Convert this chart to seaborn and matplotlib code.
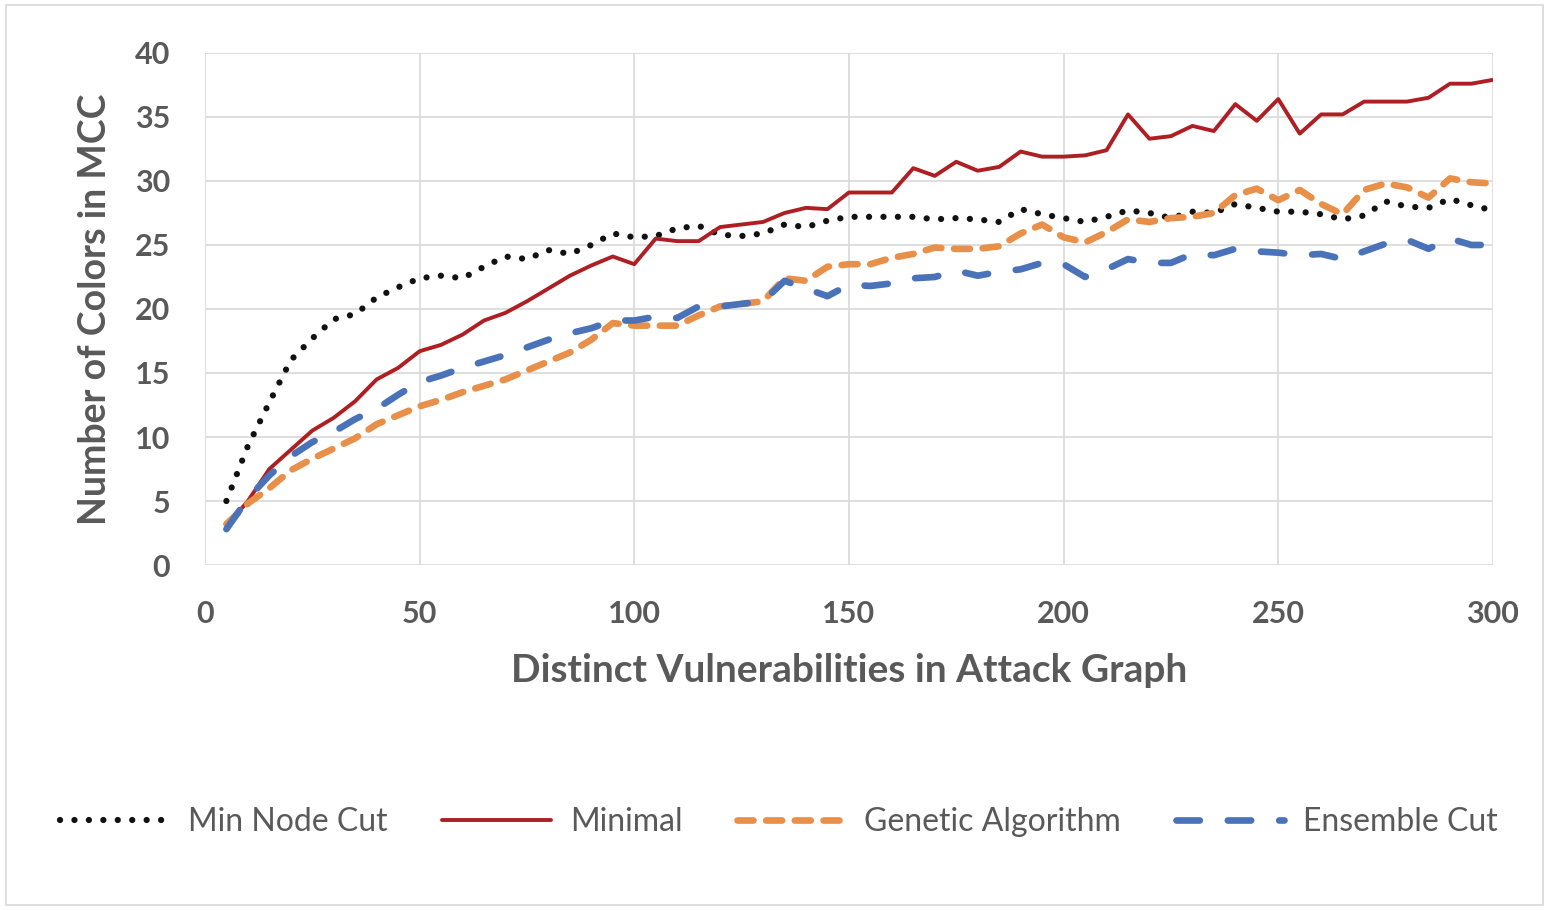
import matplotlib
matplotlib.use("Agg")
import matplotlib.pyplot as plt
import seaborn as sns
import pandas as pd
from matplotlib.patches import Rectangle

vulns = [5, 10, 15, 20, 25, 30, 35, 40, 45, 50, 55, 60, 65, 70, 75, 80, 85, 90, 95, 100,
         105, 110, 115, 120, 125, 130, 135, 140, 145, 150, 155, 160, 165, 170, 175, 180, 185, 190, 195, 200,
         205, 210, 215, 220, 225, 230, 235, 240, 245, 250, 255, 260, 265, 270, 275, 280, 285, 290, 295, 300]

min_node_cut = [5.0, 9.3, 12.7, 16.0, 17.7, 19.2, 19.6, 20.9, 21.7, 22.4, 22.6, 22.4, 23.3, 24.1, 23.9, 24.6, 24.3, 25.0, 25.9, 25.6,
                25.7, 26.3, 26.5, 25.8, 25.7, 25.9, 26.6, 26.4, 26.9, 27.2, 27.2, 27.2, 27.2, 27.0, 27.1, 27.0, 26.8, 27.8, 27.4, 27.1,
                26.8, 27.2, 27.7, 27.5, 27.1, 27.6, 27.5, 28.2, 27.9, 27.6, 27.6, 27.4, 27.0, 27.3, 28.4, 28.0, 27.9, 28.6, 28.1, 27.7]

minimal = [3.0, 5.0, 7.5, 9.0, 10.5, 11.5, 12.8, 14.5, 15.4, 16.7, 17.2, 18.0, 19.1, 19.7, 20.6, 21.6, 22.6, 23.4, 24.1, 23.5,
           25.5, 25.3, 25.3, 26.4, 26.6, 26.8, 27.5, 27.9, 27.8, 29.1, 29.1, 29.1, 31.0, 30.4, 31.5, 30.8, 31.1, 32.3, 31.9, 31.9,
           32.0, 32.4, 35.2, 33.3, 33.5, 34.3, 33.9, 36.0, 34.7, 36.4, 33.7, 35.2, 35.2, 36.2, 36.2, 36.2, 36.5, 37.6, 37.6, 37.9]

genetic = [3.2, 4.8, 6.0, 7.4, 8.3, 9.1, 9.9, 11.0, 11.7, 12.4, 12.9, 13.5, 14.0, 14.5, 15.2, 15.9, 16.6, 17.6, 18.9, 18.7,
           18.7, 18.7, 19.5, 20.2, 20.4, 20.6, 22.4, 22.2, 23.3, 23.5, 23.5, 24.0, 24.3, 24.8, 24.7, 24.7, 24.9, 25.9, 26.6, 25.6,
           25.2, 26.0, 27.0, 26.8, 27.1, 27.2, 27.5, 28.9, 29.4, 28.5, 29.3, 28.2, 27.4, 29.3, 29.8, 29.5, 28.7, 30.2, 29.9, 29.8]

ensemble = [2.8, 5.2, 7.0, 8.5, 9.6, 10.4, 11.4, 12.2, 13.3, 14.3, 14.8, 15.4, 15.9, 16.4, 17.0, 17.6, 18.1, 18.5, 19.1, 19.1,
            19.4, 19.3, 20.2, 20.2, 20.4, 20.6, 22.2, 21.6, 21.0, 21.9, 21.8, 22.0, 22.4, 22.5, 23.0, 22.6, 22.9, 23.1, 23.6, 23.5,
            22.5, 23.1, 23.9, 23.6, 23.6, 24.3, 24.2, 24.7, 24.5, 24.4, 24.2, 24.3, 23.9, 24.5, 25.1, 25.4, 24.7, 25.5, 25.0, 25.0]

series_names = ["Min Node Cut", "Minimal", "Genetic Algorithm", "Ensemble Cut"]

sns.set_theme(style="whitegrid")
plt.rcParams["font.family"] = ["Lato", "DejaVu Sans"]

df = pd.DataFrame({"x": vulns, series_names[0]: min_node_cut, series_names[1]: minimal,
                   series_names[2]: genetic, series_names[3]: ensemble})

fig = plt.figure(figsize=(15.49, 9.10), dpi=100)
ax = fig.add_axes([0.1323, 0.3791, 0.8315, 0.5627])

styles = {
    "Min Node Cut": dict(color="#111111", linewidth=4.5, linestyle=(0, (0.01, 2.3)),
                         dash_capstyle="round"),
    "Minimal": dict(color="#AE1F24", linewidth=2.8, linestyle="-"),
    "Genetic Algorithm": dict(color="#E8904A", linewidth=4.8, linestyle=(0, (2.4, 1.9)),
                              dash_capstyle="round"),
    "Ensemble Cut": dict(color="#4A72B8", linewidth=4.8, linestyle=(0, (3.5, 4.2)),
                         dash_capstyle="round"),
}

for name in series_names:
    sns.lineplot(data=df, x="x", y=name, ax=ax, label=name, **styles[name])

ax.set_xlim(0, 300)
ax.set_ylim(0, 40)
ax.set_xticks([0, 50, 100, 150, 200, 250, 300])
ax.set_yticks([0, 5, 10, 15, 20, 25, 30, 35, 40])
ax.grid(True, color="#D9D9D9", linewidth=1.2)
for s in ax.spines.values():
    s.set_visible(False)
ax.tick_params(axis="both", length=0, labelsize=22, labelcolor="#595959")
ax.tick_params(axis="y", pad=25)
ax.tick_params(axis="x", pad=25)
for lbl in ax.get_xticklabels() + ax.get_yticklabels():
    lbl.set_fontweight("bold")

ax.set_xlabel("Distinct Vulnerabilities in Attack Graph", fontsize=28, fontweight="bold",
              color="#595959", labelpad=18)
ax.set_ylabel("Number of Colors in MCC", fontsize=27, fontweight="bold",
              color="#595959", labelpad=16)

ax.get_legend().remove()
handles, labels = ax.get_legend_handles_labels()
fig.legend(handles, labels, loc="center", bbox_to_anchor=(0.503, 0.097), ncol=4,
           frameon=False, fontsize=23, labelcolor="#595959", handlelength=3.4,
           handletextpad=0.6, columnspacing=1.7)

fig.patches.append(Rectangle((0.004, 0.006), 0.992, 0.988, transform=fig.transFigure,
                             fill=False, edgecolor="#D9D9D9", linewidth=1.2))

fig.savefig("out.png", dpi=100)
